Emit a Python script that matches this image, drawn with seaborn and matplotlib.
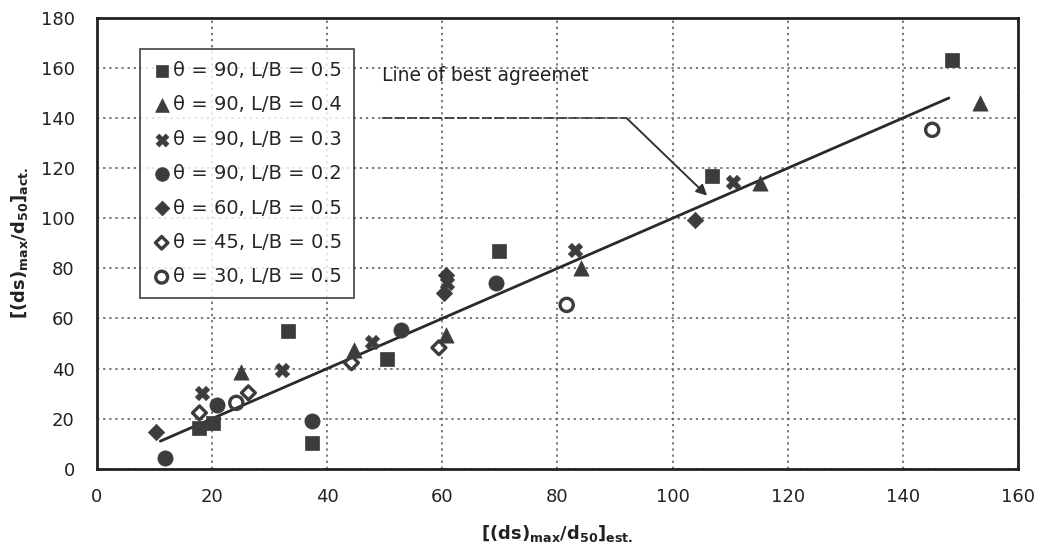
import matplotlib
matplotlib.use("Agg")
import matplotlib.pyplot as plt
import seaborn as sns
import pandas as pd
from matplotlib.ticker import MultipleLocator

# ---- data ----
sq_x = [17.8, 20.1, 33.2, 37.4, 50.4, 69.8, 106.8, 148.6]
sq_y = [16.4, 18.4, 55.0, 10.4, 44.0, 87.0, 117.0, 163.0]
tri_x = [25.1, 44.7, 60.6, 84.0, 115.2, 153.4]
tri_y = [38.7, 47.5, 53.5, 80.0, 114.0, 146.0]
x3_x = [18.2, 32.2, 47.8, 60.8, 83.0, 110.5]
x3_y = [30.3, 39.5, 50.7, 74.0, 87.4, 114.5]
ci_x = [11.9, 20.8, 37.4, 52.8, 69.3]
ci_y = [4.4, 25.5, 19.0, 55.5, 74.0]
di_x = [10.2, 60.3, 60.6, 103.9]
di_y = [14.8, 70.2, 77.4, 99.4]
od_x = [17.8, 26.3, 44.2, 59.4]
od_y = [22.3, 30.3, 42.3, 48.3]
oc_x = [24.2, 81.6, 145.1]
oc_y = [26.3, 65.4, 135.3]
line_x = [11.0, 148.0]
line_y = [11.0, 148.0]

labels = ["θ = 90, L/B = 0.5", "θ = 90, L/B = 0.4", "θ = 90, L/B = 0.3",
          "θ = 90, L/B = 0.2", "θ = 60, L/B = 0.5", "θ = 45, L/B = 0.5",
          "θ = 30, L/B = 0.5"]
x_ticks = [0, 20, 40, 60, 80, 100, 120, 140, 160]
y_ticks = [0, 20, 40, 60, 80, 100, 120, 140, 160, 180]
annot_text = "Line of best agreemet"

# ---- style ----
sns.set_theme(style="white")
plt.rcParams["font.family"] = ["DejaVu Sans"]
plt.rcParams["mathtext.fontset"] = "dejavusans"

fig = plt.figure(figsize=(10.43, 5.58), dpi=100)
ax = fig.add_axes([0.093, 0.16, 0.883, 0.808])

C = "#3c3c3c"
series = [
    (sq_x, sq_y, "s", True, 100),
    (tri_x, tri_y, "^", True, 120),
    (x3_x, x3_y, "X", True, 105),
    (ci_x, ci_y, "o", True, 120),
    (di_x, di_y, "D", True, 70),
    (od_x, od_y, "D", False, 50),
    (oc_x, oc_y, "o", False, 90),
]
for (xs, ys, m, filled, s), lab in zip(series, labels):
    df = pd.DataFrame({"x": xs, "y": ys})
    if filled:
        sns.scatterplot(data=df, x="x", y="y", marker=m, s=s, color=C,
                        edgecolor=C, linewidth=0.5, label=lab, ax=ax, zorder=4)
    else:
        sns.scatterplot(data=df, x="x", y="y", marker=m, s=s, facecolor="none",
                        edgecolor=C, linewidth=2.4, label=lab, ax=ax, zorder=4)

sns.lineplot(x=line_x, y=line_y, color="#2a2a2a", linewidth=2, ax=ax, zorder=3)

# annotation
ax.text(49.5, 157, annot_text, fontsize=13.5, color="#222222", va="center", ha="left")
ax.plot([49.5, 92], [140, 140], color="#333333", linewidth=1.2, linestyle=(0, (6, 1.5)), zorder=3)
ax.annotate("", xy=(106, 109), xytext=(92, 140),
            arrowprops=dict(arrowstyle="-|>", color="#333333", lw=1.4,
                            mutation_scale=16, shrinkA=0, shrinkB=0), zorder=3)

ax.set_xlim(0, 160)
ax.set_ylim(0, 180)
ax.set_xticks(x_ticks)
ax.set_yticks(y_ticks)
ax.xaxis.set_minor_locator(MultipleLocator(4))
ax.yaxis.set_minor_locator(MultipleLocator(4))
ax.tick_params(axis="both", which="major", direction="in", length=5, width=1.2,
               labelsize=13, colors="#222222", pad=12)
ax.tick_params(axis="both", which="minor", direction="in", length=3, width=1,
               colors="#222222")
ax.tick_params(axis="x", pad=14)
ax.tick_params(axis="y", pad=16)
ax.grid(True, which="major", linestyle=(0, (1.5, 2.5)), color="#555555", linewidth=1.1)
for sp in ax.spines.values():
    sp.set_visible(True)
    sp.set_color("#222222")
    sp.set_linewidth(2)

ax.set_xlabel(r"$\mathbf{[(ds)_{max}/d_{50}]_{est.}}$", fontsize=13, labelpad=12, color="#222222")
ax.set_ylabel(r"$\mathbf{[(ds)_{max}/d_{50}]_{act.}}$", fontsize=13, labelpad=8, color="#222222")

leg = ax.legend(loc="upper left", bbox_to_anchor=(0.047, 0.93), frameon=True,
                fancybox=False, edgecolor="#222222", fontsize=14,
                labelspacing=0.79, handletextpad=0.1, handlelength=1.0,
                borderpad=0.6, borderaxespad=0, markerscale=0.9)
leg.get_frame().set_linewidth(1.3)
leg.set_zorder(5)

fig.savefig("out.png", dpi=100, facecolor="white")
